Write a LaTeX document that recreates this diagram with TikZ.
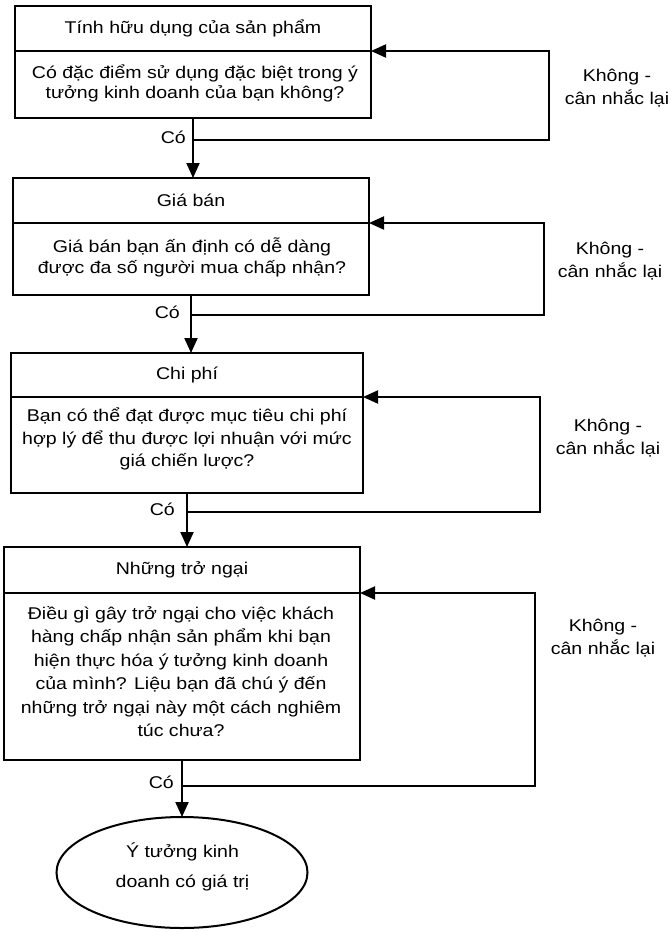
\documentclass[tikz,border=0pt]{standalone}
\usepackage{fontspec}
\setmainfont{Liberation Sans}[FakeStretch=1.15]
\usetikzlibrary{arrows.meta,shapes.geometric}

% 17pt type with a fixed line pitch, accents never widen it
\newcommand{\fs}[1]{\fontsize{17}{#1}\selectfont\lineskiplimit=-40pt\lineskip=0pt\relax}

\begin{document}
\begin{tikzpicture}[x=1pt,y=-1pt,
  box/.style={draw, line width=2pt, rectangle, inner sep=0pt, outer sep=0pt,
    align=center, font=\fs{21}},
  txt/.style={inner sep=0pt, outer sep=0pt, align=center},
  flow/.style={line width=2pt, -{Triangle[length=15pt,width=13pt]}},
  back/.style={line width=2pt, -{Triangle[length=15pt,width=13pt]}},
  lbl/.style={font=\fs{22.5}, align=center, inner sep=0pt},
]
\useasboundingbox (0,0) rectangle (670,932);

% step 1
\node[box, minimum width=356pt, minimum height=45pt] (t1) at (193,28.5) {Tính hữu dụng của sản phẩm};
\node[box, minimum width=356pt, minimum height=67pt, anchor=north] (q1) at (t1.south) {};
\node[txt, font=\fs{20}] (q1t) at (195,83)
  {Có đặc điểm sử dụng đặc biệt trong ý\\tưởng kinh doanh của bạn không?};

% step 2
\node[box, minimum width=356pt, minimum height=45pt] (t2) at (191,200.5) {Giá bán};
\node[box, minimum width=356pt, minimum height=72pt, anchor=north] (q2) at (t2.south) {};
\node[txt, font=\fs{21}] (q2t) at (192,257.5)
  {Giá bán bạn ấn định có dễ dàng\\được đa số người mua chấp nhận?};

% step 3
\node[box, minimum width=352pt, minimum height=44pt] (t3) at (187,375) {Chi phí};
\node[box, minimum width=352pt, minimum height=96pt, anchor=north] (q3) at (t3.south) {};
\node[txt, font=\fs{22.8}] (q3t) at (187,439)
  {Bạn có thể đạt được mục tiêu chi phí\\hợp lý để thu được lợi nhuận với mức\\giá chiến lược?};

% step 4
\node[box, minimum width=356pt, minimum height=46pt] (t4) at (182,570) {Những trở ngại};
\node[box, minimum width=356pt, minimum height=167pt, anchor=north] (q4) at (t4.south) {};
\node[txt, font=\fs{23.4}] (q4t) at (181,671.5)
  {Điều gì gây trở ngại cho việc khách\\hàng chấp nhận sản phẩm khi bạn\\hiện thực hóa ý tưởng kinh doanh\\của mình? Liệu bạn đã chú ý đến\\những trở ngại này một cách nghiêm\\túc chưa?};

% result
\node[draw, ellipse, line width=2pt, minimum width=251pt, minimum height=111pt,
  inner sep=0pt, outer sep=0pt] (res) at (182,872.5) {};
\node[txt, font=\fs{30}] (rest) at (182.5,867) {Ý tưởng kinh\\doanh có giá trị};

% forward arrows
\draw[flow] (q1.south) -- (q1.south |- t2.north);
\draw[flow] (q2.south) -- (q2.south |- t3.north);
\draw[flow] (q3.south) -- (q3.south |- t4.north);
\draw[flow] (q4.south) -- (res.north);

% branch points and return loops
\coordinate (r1) at (549,140); \coordinate (j1) at (q1.south |- r1);
\coordinate (r2) at (544,315); \coordinate (j2) at (q2.south |- r2);
\coordinate (r3) at (540,512); \coordinate (j3) at (q3.south |- r3);
\coordinate (r4) at (535,786); \coordinate (j4) at (q4.south |- r4);
\draw[back] (j1) -- (r1) |- (t1.south east);
\draw[back] (j2) -- (r2) |- (t2.south east);
\draw[back] (j3) -- (r3) |- (t3.south east);
\draw[back] (j4) -- (r4) |- (t4.south east);

% yes labels
\node[lbl, anchor=east] (y1) at (186,137) {Có};
\node[lbl, anchor=east] (y2) at (180,312) {Có};
\node[lbl, anchor=east] (y3) at (175,509) {Có};
\node[lbl, anchor=east] (y4) at (174,782) {Có};

% no labels
\node[lbl] (n1) at (617,88) {Không -\\cân nhắc lại};
\node[lbl] (n2) at (610,261) {Không -\\cân nhắc lại};
\node[lbl] (n3) at (608,438) {Không -\\cân nhắc lại};
\node[lbl] (n4) at (603,638) {Không -\\cân nhắc lại};
\end{tikzpicture}
\end{document}
